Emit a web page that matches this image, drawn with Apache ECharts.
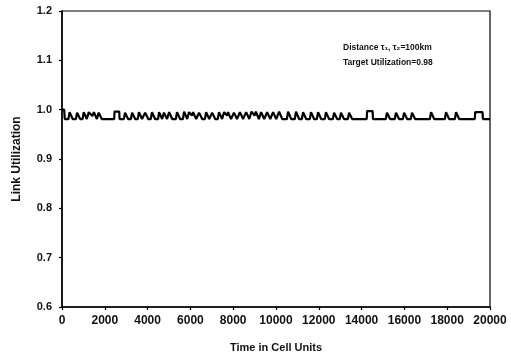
<!DOCTYPE html>
<html>
<head>
<meta charset="utf-8">
<script src="https://cdn.jsdelivr.net/npm/echarts@6/dist/echarts.min.js"></script>
<style>html,body{margin:0;padding:0;background:#fff}#c{width:511px;height:358px}</style>
</head>
<body>
<div id="c"></div>
<script>
const xTicks = [0, 2000, 4000, 6000, 8000, 10000, 12000, 14000, 16000, 18000, 20000];
const yTicks = [0.6, 0.7, 0.8, 0.9, 1.0, 1.1, 1.2];
const annotationLines = ['Distance \u03c4\u2081, \u03c4\u2082=100km', 'Target Utilization=0.98'];
const linkUtilization = [
  [0,1.0],[100,1.0],[130,0.981],
  [300,.981],[355,.995],[445,.995],[500,.981],
  [650,.981],[705,.994],[795,.994],[850,.981],
  [960,.981],[1015,.995],[1105,.995],[1160,.981],
  [1200,.981],[1250,.995],[1340,.995],[1415,.987],[1490,.995],[1570,.995],[1630,.981],
  [1670,.981],[1715,.994],[1805,.994],[1860,.981],
  [2440,.981],[2455,.996],[2675,.996],[2690,.981],
  [2890,.981],[2945,.994],[3035,.994],[3090,.981],
  [3220,.981],[3275,.994],[3365,.994],[3420,.981],
  [3540,.981],[3595,.995],[3685,.995],[3740,.981],
  [3830,.981],[3885,.994],[3975,.994],[4030,.981],
  [4150,.981],[4205,.995],[4295,.995],[4350,.981],
  [4490,.981],[4535,.995],[4625,.995],[4680,.981],
  [4720,.981],[4765,.994],[4855,.994],[4910,.981],
  [4960,.981],[5005,.995],[5095,.995],[5150,.981],
  [5320,.981],[5375,.995],[5465,.995],[5520,.981],
  [5650,.981],[5705,.996],[5795,.996],[5850,.981],
  [5890,.981],[5935,.995],[6025,.995],[6075,.988],[6125,.995],[6215,.995],[6270,.981],
  [6350,.981],[6405,.994],[6495,.994],[6550,.981],
  [6680,.981],[6735,.995],[6825,.995],[6880,.981],
  [6970,.981],[7015,.994],[7105,.994],[7160,.981],
  [7280,.981],[7335,.995],[7425,.995],[7480,.981],
  [7530,.981],[7575,.995],[7665,.995],[7710,.988],[7755,.995],[7845,.995],[7900,.981],
  [7980,.981],[8035,.994],[8125,.994],[8180,.981],
  [8260,.981],[8315,.995],[8405,.995],[8460,.981],
  [8550,.981],[8605,.995],[8695,.995],[8750,.981],
  [8800,.981],[8855,.996],[8945,.996],[9000,.988],[9055,.996],[9145,.996],[9200,.981],
  [9260,.981],[9305,.995],[9395,.995],[9450,.981],
  [9530,.981],[9585,.995],[9675,.995],[9730,.981],
  [9810,.981],[9865,.995],[9955,.995],[10010,.981],
  [10090,.981],[10145,.996],[10235,.996],[10290,.981],
  [10510,.981],[10565,.996],[10655,.996],[10710,.981],
  [10880,.981],[10935,.996],[11025,.996],[11080,.981],
  [11210,.981],[11265,.995],[11355,.995],[11410,.981],
  [11580,.981],[11635,.995],[11725,.995],[11780,.981],
  [11910,.981],[11965,.995],[12055,.995],[12110,.981],
  [12280,.981],[12335,.995],[12425,.995],[12480,.981],
  [12660,.981],[12715,.994],[12805,.994],[12860,.981],
  [12980,.981],[13035,.994],[13125,.994],[13180,.981],
  [13360,.981],[13415,.994],[13505,.994],[13560,.981],
  [14240,.981],[14255,.997],[14515,.997],[14530,.981],
  [15130,.981],[15185,.994],[15275,.994],[15330,.981],
  [15550,.981],[15605,.994],[15695,.994],[15750,.981],
  [15930,.981],[15985,.994],[16075,.994],[16130,.981],
  [16300,.981],[16355,.994],[16445,.994],[16500,.981],
  [17190,.981],[17245,.995],[17335,.995],[17390,.981],
  [17890,.981],[17945,.995],[18035,.995],[18090,.981],
  [18360,.981],[18415,.995],[18505,.995],[18560,.981],
  [19290,.981],[19310,.995],[19650,.995],[19670,.981],
  [20000,.981]
];

const FONT = '"Liberation Sans", Arial, sans-serif';
const chart = echarts.init(document.getElementById('c'), null, {renderer: 'canvas'});
chart.setOption({
  animation: false,
  backgroundColor: '#fff',
  grid: {left: 62, right: 21, top: 11, bottom: 49, show: true, borderColor: '#000', borderWidth: 1.2, containLabel: false},
  xAxis: {
    type: 'value', min: 0, max: 20000, interval: 2000,
    name: 'Time in Cell Units', nameLocation: 'middle', nameGap: 35,
    nameTextStyle: {fontFamily: FONT, fontSize: 11, fontWeight: 'bold', color: '#111'},
    axisLine: {show: true, lineStyle: {color: '#000', width: 1.5}},
    axisTick: {show: true, inside: false, length: 3, lineStyle: {color: '#000', width: 1.2}},
    axisLabel: {fontFamily: FONT, fontSize: 12, fontWeight: 'bold', color: '#111', margin: 8,
      formatter: v => xTicks.includes(v) ? String(v) : ''},
    splitLine: {show: false}
  },
  yAxis: {
    type: 'value', min: 0.6, max: 1.2, interval: 0.1,
    name: 'Link Utilization', nameLocation: 'middle', nameGap: 39, nameRotate: 90,
    nameTextStyle: {fontFamily: FONT, fontSize: 12, fontWeight: 'bold', color: '#111'},
    axisLine: {show: true, lineStyle: {color: '#000', width: 1.5}},
    axisTick: {show: true, inside: false, length: 3, lineStyle: {color: '#000', width: 1.2}},
    axisLabel: {fontFamily: FONT, fontSize: 11, fontWeight: 'bold', color: '#111', margin: 10,
      formatter: v => { const t = yTicks.find(y => Math.abs(y - v) < 1e-6); return t === undefined ? '' : t.toFixed(1); }},
    splitLine: {show: false}
  },
  graphic: [
    {type: 'text', left: 343, top: 43, style: {text: annotationLines[0], font: 'bold 8.5px "Liberation Sans", Arial, sans-serif', fill: '#111'}},
    {type: 'text', left: 343, top: 58, style: {text: annotationLines[1], font: 'bold 8.5px "Liberation Sans", Arial, sans-serif', fill: '#111'}}
  ],
  series: [{
    type: 'line', data: linkUtilization, showSymbol: false, symbol: 'none',
    lineStyle: {color: '#000', width: 2.2}, smooth: false
  }]
});
</script>
</body>
</html>
